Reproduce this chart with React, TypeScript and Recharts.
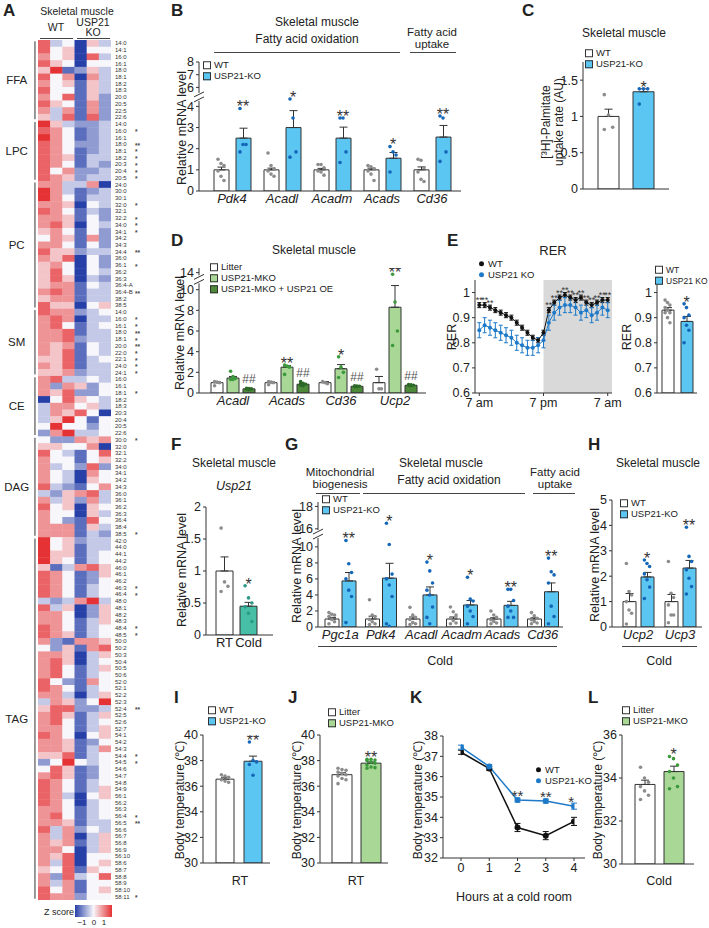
import React from 'react';
import {
  ComposedChart, ScatterChart, Bar, Line, Scatter, XAxis, YAxis, ErrorBar,
  ReferenceArea, ReferenceLine, ReferenceDot,
} from 'recharts';

const FONT = '"Liberation Sans", Arial, Helvetica, sans-serif';
const AX = '#333';
const TXT = '#222';
const WHITE = '#ffffff';
const BLUE = '#5CC6F2';
const BLUE_DOT = '#1466B8';
const GRAY_DOT = '#8c8c8c';
const LGREEN = '#A8D796';
const GREEN_DOT = '#3C9A3C';
const DGREEN = '#4C8A3A';
const DGREEN_DOT = '#2D6A28';
const TEAL = '#47BFA6';
const TEAL_DOT = '#2A9A86';
const LINE_BLUE = '#1E7AC8';

// ---------------- Heatmap data (A) ----------------
const ffaRows = ['14:0', '14:1', '16:0', '16:1', '18:0', '18:1', '18:2', '18:3', '20:0', '20:5', '22:5', '22:6'];
const ffaZ = ['734053', '745044', '645073', '754044', '581253', '746063', '645153', '744153', '647152', '754162', '636162', '537172'];
const ffaStars: Record<string, string> = {};
const lpcRows = ['14:0', '16:0', '16:1', '18:0', '18:1', '18:2', '20:3', '20:4', '20:5'];
const lpcZ = ['853223', '764123', '864123', '764223', '764123', '765133', '764132', '746223', '765233'];
const lpcStars: Record<string, string> = { '16:0': '*', '18:0': '**', '18:1': '*', '18:2': '*', '20:3': '*', '20:4': '*', '20:5': '*' };
const pcRows = ['24:0', '30:0', '30:1', '32:0', '32:1', '32:2', '34:0', '34:1', '34:2', '34:3', '34:4', '36:0', '36:1', '36:2', '36:3', '36:4-A', '36:4-B', '38:2', '38:5'];
const pcZ = ['663360', '863123', '864133', '665043', '764132', '665142', '675043', '564142', '465162', '664142', '755233', '657042', '564042', '574043', '575032', '566143', '676133', '566133', '755045'];
const pcStars: Record<string, string> = { '32:0': '*', '32:2': '*', '34:0': '*', '34:1': '*', '34:4': '**', '36:1': '*', '36:4-B': '**' };
const smRows = ['14:0', '16:0', '16:1', '18:0', '18:1', '20:0', '22:0', '22:1', '24:0', '24:1'];
const smZ = ['766234', '676033', '674134', '667133', '667233', '656143', '657143', '557134', '657133', '556233'];
const smStars: Record<string, string> = { '16:0': '*', '16:1': '*', '18:0': '**', '18:1': '*', '20:0': '**', '22:0': '*', '22:1': '*', '24:0': '*', '24:1': '*' };
const ceRows = ['16:0', '16:1', '18:1', '18:2', '18:3', '20:3', '20:4', '20:5', '22:6'];
const ceZ = ['673343', '626524', '657224', '047543', '366453', '365740', '358414', '484424', '268334'];
const ceStars: Record<string, string> = { '18:1': '*' };
const dagRows = ['30:0', '32:0', '32:1', '32:2', '34:0', '34:1', '34:2', '34:3', '36:0', '36:1', '36:2', '36:3', '36:4', '38:4', '38:5'];
const dagZ = ['422656', '554460', '743147', '644145', '634272', '643064', '643054', '732146', '325673', '635263', '745054', '644053', '642174', '666153', '666132'];
const dagStars: Record<string, string> = { '30:0': '*', '38:5': '*' };
const tagRows = ['42:0', '44:0', '44:1', '44:2', '46:0', '46:1', '46:2', '46:3', '46:4', '48:0', '48:1', '48:2', '48:3', '48:4', '48:5', '50:0', '50:2', '50:3', '50:4', '50:5', '50:6', '52:0', '52:1', '52:2', '52:3', '52:4', '52:5', '52:6', '52:7', '54:1', '54:2', '54:3', '54:4', '54:5', '54:6', '54:7', '54:8', '54:9', '56:1', '56:2', '56:3', '56:4', '56:5', '56:6', '56:7', '56:8', '56:9', '56:10', '58:6', '58:7', '58:8', '58:9', '58:10', '58:11'];
const tagZ = ['845233', '845133', '855134', '854134', '513675', '764125', '764124', '764134', '764134', '323683', '735025', '664025', '664135', '764134', '765134', '621665', '425167', '665035', '675034', '674135', '674134', '742164', '764134', '663035', '365248', '577223', '675135', '674134', '664135', '764045', '665124', '665136', '557134', '248434', '475124', '675124', '764134', '764135', '763045', '764034', '664134', '674134', '665133', '736243', '636035', '656135', '664035', '657044', '637045', '547154', '627347', '636144', '746145', '766244'];
const tagStars: Record<string, string> = { '46:3': '*', '46:4': '*', '48:4': '*', '48:5': '*', '52:4': '**', '54:4': '*', '54:5': '*', '56:4': '*', '56:5': '**', '58:11': '*' };
const hmGroups = [
  { name: 'FFA', rows: ffaRows, z: ffaZ, stars: ffaStars },
  { name: 'LPC', rows: lpcRows, z: lpcZ, stars: lpcStars },
  { name: 'PC', rows: pcRows, z: pcZ, stars: pcStars },
  { name: 'SM', rows: smRows, z: smZ, stars: smStars },
  { name: 'CE', rows: ceRows, z: ceZ, stars: ceStars },
  { name: 'DAG', rows: dagRows, z: dagZ, stars: dagStars },
  { name: 'TAG', rows: tagRows, z: tagZ, stars: tagStars },
];

// ---------------- B ----------------
const bGenes = ['Pdk4', 'Acadl', 'Acadm', 'Acads', 'Cd36'];
const bWT = [1, 1, 1, 1, 1];
const bWTerr = [0.13, 0.08, 0.07, 0.08, 0.14];
const bWTdots = [[1.5, 1.3, 1.2, 0.95, 0.7, 0.5], [1.8, 1.2, 1.05, 0.95, 0.8, 0.7], [1.25, 1.25, 1.1, 0.95, 0.9, 0.75], [1.2, 1.15, 1.05, 0.95, 0.8, 0.5], [1.5, 1.45, 1.1, 0.9, 0.55, 0.45]];
const bKO = [2.5, 3.0, 2.5, 1.55, 2.55];
const bKOerr = [0.47, 0.8, 0.52, 0.27, 0.55];
const bKOdots = [[3.9, 2.2, 2.2, 1.85], [4.35, 3.45, 1.85, 1.6], [3.45, 3.45, 1.85, 1.35], [2.1, 1.85, 1.7, 0.9], [3.55, 3.45, 1.85, 1.4]];
const bStars = ['**', '*', '**', '*', '**'];
const bTicks = [0, 1, 2, 3, 4, 6, 7, 8];

// ---------------- C ----------------
const cWT = [1.0]; const cWTerr = [0.1]; const cWTdots = [[1.3, 1.02, 0.85, 0.82]];
const cKO = [1.34]; const cKOerr = [0.04]; const cKOdots = [[1.38, 1.38, 1.38, 1.17]];
const cTicks = [0, 0.5, 1, 1.5];

// ---------------- D ----------------
const dGenes = ['Acadl', 'Acads', 'Cd36', 'Ucp2'];
const dLitter = [1.0, 1.0, 1.0, 1.0];
const dLitterErr = [0.08, 0.07, 0.1, 0.6];
const dLitterDots = [[1.1, 1.05, 1.0, 0.7], [1.1, 1.05, 1.0, 0.8], [1.1, 1.0, 0.9], [2.3, 0.4, 0.4]];
const dMKO = [1.45, 2.5, 2.35, 8.3];
const dMKOErr = [0.15, 0.15, 0.4, 2.1];
const dMKODots = [[2.1, 1.6, 1.4, 1.3, 1.3], [2.7, 2.6, 2.5, 1.8], [3.5, 2.5, 2.0, 1.5], [13.6, 8.8, 6.0, 4.6]];
const dMKOStars = ['', '**', '*', '**'];
const dOE = [0.4, 0.85, 0.65, 0.75];
const dOEErr = [0.04, 0.08, 0.04, 0.05];
const dOEDots = [[0.45, 0.42, 0.4, 0.38, 0.35], [1.1, 0.95, 0.85, 0.75, 0.7], [0.7, 0.68, 0.65, 0.62, 0.6], [0.82, 0.8, 0.75, 0.72, 0.7]];
const dOEStars = ['##', '##', '##', '##'];
const dTicks = [0, 2, 4, 6, 8, 10, 14];

// ---------------- E ----------------
const rerHours = [0, 1, 2, 3, 4, 5, 6, 7, 8, 9, 10, 11, 12, 13, 14, 15, 16, 17, 18, 19, 20, 21, 22, 23, 24];
const rerWT = [0.95, 0.95, 0.94, 0.93, 0.92, 0.91, 0.9, 0.88, 0.86, 0.84, 0.82, 0.81, 0.84, 0.93, 0.96, 0.98, 0.99, 0.98, 0.97, 0.98, 0.96, 0.95, 0.96, 0.97, 0.97];
const rerWTerr = [0.01, 0.01, 0.01, 0.01, 0.01, 0.01, 0.01, 0.01, 0.01, 0.01, 0.01, 0.01, 0.01, 0.01, 0.01, 0.01, 0.01, 0.01, 0.01, 0.01, 0.01, 0.01, 0.01, 0.01, 0.01];
const rerKO = [0.85, 0.87, 0.86, 0.85, 0.84, 0.83, 0.82, 0.8, 0.79, 0.78, 0.78, 0.79, 0.81, 0.88, 0.92, 0.94, 0.95, 0.95, 0.94, 0.92, 0.93, 0.91, 0.92, 0.94, 0.93];
const rerKOerr = [0.03, 0.03, 0.03, 0.03, 0.03, 0.03, 0.03, 0.03, 0.03, 0.03, 0.03, 0.03, 0.03, 0.03, 0.03, 0.03, 0.03, 0.03, 0.03, 0.03, 0.03, 0.03, 0.03, 0.03, 0.03];
const rerStarIdx = [0, 1, 2, 13, 14, 15, 16, 17, 18, 19, 20, 21, 22, 23, 24];
const rerTicks = [0.6, 0.7, 0.8, 0.9, 1];
const rerXTicks = [0, 12, 24];
const rerXLabels = ['7 am', '7 pm', '7 am'];
const eWT = [0.93]; const eWTerr = [0.01]; const eWTdots = [[0.97, 0.96, 0.95, 0.94, 0.93, 0.92, 0.92, 0.9, 0.88]];
const eKO = [0.885]; const eKOerr = [0.02]; const eKOdots = [[0.955, 0.94, 0.91, 0.9, 0.87, 0.85, 0.8]];

// ---------------- F ----------------
const fRT = [1.0]; const fRTerr = [0.22]; const fRTdots = [[1.67, 0.83, 0.76, 0.68]];
const fCold = [0.45]; const fColdErr = [0.06]; const fColdDots = [[0.77, 0.58, 0.5, 0.44, 0.34, 0.21]];
const fTicks = [0, 0.5, 1, 1.5, 2];

// ---------------- G ----------------
const gGenes = ['Pgc1a', 'Pdk4', 'Acadl', 'Acadm', 'Acads', 'Cd36'];
const gWT = [1, 1, 1, 1, 1, 1];
const gWTerr = [0.2, 0.35, 0.25, 0.25, 0.15, 0.15];
const gWTdots = [[1.8, 1.6, 1.5, 1.3, 0.95, 0.65, 0.4], [3.4, 1.5, 1.3, 0.95, 0.65, 0.4, 0.3], [2.45, 1.5, 1.2, 0.95, 0.55, 0.4, 0.3], [2.5, 1.9, 1.5, 1.1, 0.8, 0.5, 0.4], [2.0, 1.5, 1.2, 0.9, 0.7, 0.5, 0.4], [1.8, 1.4, 1.1, 0.9, 0.7, 0.5, 0.4]];
const gKO = [5.75, 6.1, 4.0, 2.75, 2.7, 4.4];
const gKOerr = [1.05, 1.85, 1.0, 0.55, 0.5, 1.1];
const gKOdots = [[10.8, 7.9, 6.8, 6.0, 4.6, 3.8, 0.55], [16.5, 10.3, 6.6, 6.0, 5.25, 3.8, 0.4, 0.1], [8.1, 7.0, 5.5, 4.6, 4.0, 2.5, 1.2, 0.4], [6.2, 3.5, 3.25, 2.6, 2.0, 1.3, 0.4], [4.7, 4.7, 3.3, 2.6, 2.0, 1.2, 1.2], [8.6, 6.9, 6.5, 5.5, 2.6, 1.3, 0.4]];
const gStars = ['**', '*', '*', '*', '**', '**'];
const gTicks = [0, 2, 4, 6, 8, 10, 16, 18];

// ---------------- H ----------------
const hGenes = ['Ucp2', 'Ucp3'];
const hWT = [1.0, 1.0]; const hWTerr = [0.32, 0.28];
const hWTdots = [[2.5, 1.4, 1.26, 1.0, 0.67, 0.54, 0.12], [2.58, 1.33, 1.16, 0.87, 0.47, 0.47, 0.17]];
const hKO = [1.97, 2.32]; const hKOerr = [0.18, 0.3];
const hKOdots = [[2.64, 2.5, 2.38, 2.09, 1.86, 1.57, 1.12], [3.93, 2.78, 2.58, 2.25, 1.92, 1.59, 1.3]];
const hStars = ['*', '**'];
const hTicks = [0, 1, 2, 3, 4, 5];

// ---------------- I, J, L ----------------
const iWT = [36.55]; const iWTerr = [0.15]; const iWTdots = [[36.9, 36.8, 36.7, 36.5, 36.4, 36.3]];
const iKO = [37.95]; const iKOerr = [0.4]; const iKOdots = [[39.45, 38.0, 37.9, 37.7, 36.85]];
const jLit = [36.9]; const jLitErr = [0.15]; const jLitDots = [[37.4, 37.3, 37.25, 37.1, 37.0, 36.9, 36.8, 36.6, 36.5, 36.2]];
const jMKO = [37.8]; const jMKOErr = [0.1]; const jMKODots = [[38.1, 38.1, 38.05, 38.0, 37.9, 37.8, 37.65, 37.5, 37.45, 37.4]];
const tempTicks = [30, 32, 34, 36, 38, 40];
const lLit = [33.7]; const lLitErr = [0.2]; const lLitDots = [[34.5, 34.0, 33.8, 33.6, 33.4, 33.2, 33.0]];
const lMKO = [34.3]; const lMKOErr = [0.25]; const lMKODots = [[35.0, 34.9, 34.6, 34.3, 34.0, 33.6, 33.5]];
const lTicks = [30, 32, 34, 36];

// ---------------- K ----------------
const kHours = [0, 1, 2, 3, 4];
const kWT = [37.2, 36.4, 33.5, 33.1, 33.8];
const kWTerr = [0.1, 0.1, 0.2, 0.2, 0.2];
const kKO = [37.45, 36.5, 34.85, 34.8, 34.55];
const kKOerr = [0.1, 0.1, 0.1, 0.1, 0.15];
const kStarIdx = [2, 3, 4];
const kTicks = [32, 33, 34, 35, 36, 37, 38];

// ---------------- helpers ----------------
function Txt({ x, y, s = 12, c = TXT, b = false, i = false, a = 'middle', children }: any) {
  const tx = a === 'middle' ? '-50%' : a === 'end' ? '-100%' : '0';
  return (
    <div style={{ position: 'absolute', left: x, top: y, transform: `translate(${tx},-50%)`, fontSize: s, color: c, fontWeight: b ? 'bold' : 'normal', fontStyle: i ? 'italic' : 'normal', fontFamily: FONT, whiteSpace: 'nowrap', lineHeight: 1 }}>{children}</div>
  );
}
function VTxt({ x, y, s = 12, children }: any) {
  return (
    <div style={{ position: 'absolute', left: x, top: y, transform: 'translate(-50%,-50%) rotate(-90deg)', fontSize: s, color: TXT, fontFamily: FONT, whiteSpace: 'nowrap', lineHeight: 1 }}>{children}</div>
  );
}
function HLine({ x1, x2, y }: any) {
  return <div style={{ position: 'absolute', left: x1, top: y, width: x2 - x1, height: 0, borderTop: '1px solid #444' }} />;
}
function Legend({ x, y, items, dy = 11, s = 9.5, round = false }: any) {
  return (
    <>
      {items.map((it: any, k: number) => (
        <div key={k} style={{ position: 'absolute', left: x, top: y + k * dy, transform: 'translateY(-50%)', display: 'flex', alignItems: 'center', fontSize: s, fontFamily: FONT, color: TXT, whiteSpace: 'nowrap', lineHeight: 1 }}>
          {round ? (
            <span style={{ width: 5, height: 5, borderRadius: '50%', background: it.fill, marginRight: 4, display: 'inline-block' }} />
          ) : (
            <span style={{ width: 8, height: 8, border: '1px solid #333', background: it.fill, marginRight: 3, display: 'inline-block', boxSizing: 'border-box' }} />
          )}
          {it.label}
        </div>
      ))}
    </>
  );
}
const BreakMark = ({ cx, cy }: any) => (
  <g>
    <rect x={cx - 5} y={cy - 4} width={10} height={8} fill="#fff" />
    <line x1={cx - 5} y1={cy + 0} x2={cx + 5} y2={cy - 5} stroke={AX} strokeWidth={1} />
    <line x1={cx - 5} y1={cy + 5} x2={cx + 5} y2={cy} stroke={AX} strokeWidth={1} />
  </g>
);
const starShape = (size: number) => (q: any) => {
  const t: string = q.payload.t;
  const isHash = t.indexOf('#') >= 0;
  const y = isHash ? q.cy - 5 : q.cy - 3 + 0.43 * size;
  return (
    <text x={q.cx} y={y} textAnchor="middle" fontSize={isHash ? 12 : size} fontFamily={FONT} fill={q.payload.c || '#333'}>{t}</text>
  );
};

// ---------------- generic bar panel ----------------
function BarPanel(p: any) {
  const {
    x0, y0, w, h, ml = 32, mr = 4, mt = 10, mb = 22, cats, series, domain, ticks, tickLabels,
    padL = 0, padR = 0, barSize, barGap, italic = true, hideX = false, tf = (v: number) => v, brk,
    starSize = 16, catFont = 13, barLabels, tickFont = 12.5, dotR = 1.8,
  } = p;
  const n = cats.length;
  const k = series.length;
  const band = (w - padL - padR) / n;
  const off = (j: number) => (j - (k - 1) / 2) * (barSize + barGap);
  const data = cats.map((c: string, i: number) => {
    const o: any = { cat: c };
    series.forEach((s: any, j: number) => {
      const v = tf(s.values[i]);
      o['v' + j] = v;
      o['e' + j] = [0, tf(s.values[i] + s.errs[i]) - v];
    });
    return o;
  });
  const dots: any[] = [];
  const stars: any[] = [];
  series.forEach((s: any, j: number) => {
    s.dots.forEach((arr: number[], i: number) => {
      arr.forEach((d: number, m: number) => dots.push({ x: i + 0.5 + (off(j) + ((m % 3) - 1) * barSize * 0.2) / band, y: tf(d), c: s.dot }));
      if (s.stars && s.stars[i]) {
        stars.push({ x: i + 0.5 + off(j) / band, y: tf(Math.max(...arr, s.values[i] + s.errs[i])), t: s.stars[i], c: s.starColor || '#333' });
      }
    });
  });
  const disp = ticks.map(tf);
  const fmt = (v: number) => {
    const idx = disp.findIndex((t: number) => Math.abs(t - v) < 1e-6);
    return idx >= 0 ? (tickLabels ? tickLabels[idx] : String(ticks[idx])) : '';
  };
  const xTick = (q: any) => {
    if (hideX) return <g />;
    if (barLabels) {
      return (
        <g>
          {barLabels.map((l: string, j: number) => (
            <text key={j} x={q.x + off(j)} y={q.y} dy="0.75em" textAnchor="middle" fontSize={catFont} fontFamily={FONT} fill={TXT}>{l}</text>
          ))}
        </g>
      );
    }
    return (
      <text x={q.x} y={q.y} dy="0.75em" textAnchor="middle" fontSize={catFont} fontStyle={italic ? 'italic' : 'normal'} fontFamily={FONT} fill={TXT}>{q.payload.value}</text>
    );
  };
  return (
    <div style={{ position: 'absolute', left: x0 - ml, top: y0 - mt }}>
      <ComposedChart width={ml + w + mr} height={mt + h + mb} data={data} margin={{ top: mt, right: mr, left: 0, bottom: 0 }} barGap={barGap}>
        <XAxis xAxisId="c" dataKey="cat" type="category" padding={{ left: padL, right: padR }} height={mb} tickLine={false} tickSize={0} tickMargin={2} axisLine={{ stroke: AX }} tick={xTick} interval={0} />
        <XAxis xAxisId="n" dataKey="x" type="number" domain={[0, n]} padding={{ left: padL, right: padR }} hide allowDataOverflow />
        <YAxis yAxisId="y" type="number" domain={domain} ticks={disp} tickFormatter={fmt} width={ml} allowDataOverflow interval={0} tick={{ fontSize: tickFont, fill: TXT, fontFamily: FONT }} tickSize={3} tickMargin={2} axisLine={{ stroke: AX }} tickLine={{ stroke: AX }} />
        {series.map((s: any, j: number) => (
          <Bar key={j} xAxisId="c" yAxisId="y" dataKey={'v' + j} barSize={barSize} fill={s.fill} stroke={AX} strokeWidth={1} isAnimationActive={false}>
            <ErrorBar dataKey={'e' + j} width={4} stroke={AX} strokeWidth={1} direction="y" />
          </Bar>
        ))}
        <Scatter xAxisId="n" yAxisId="y" data={dots} dataKey="y" isAnimationActive={false} shape={(q: any) => <circle cx={q.cx} cy={q.cy} r={dotR} fill={q.payload.c} />} />
        <Scatter xAxisId="n" yAxisId="y" data={stars} dataKey="y" isAnimationActive={false} shape={starShape(starSize)} />
        {brk !== undefined && (
          <ReferenceDot xAxisId="n" yAxisId="y" x={-padL / band} y={brk} ifOverflow="visible" shape={(q: any) => <BreakMark cx={q.cx} cy={q.cy} />} />
        )}
      </ComposedChart>
    </div>
  );
}

// ---------------- line panel ----------------
function LinePanel(p: any) {
  const {
    x0, y0, w, h, ml = 30, mr = 4, mt = 10, mb = 20, xs, a, ae, b, be, aColor, bColor,
    xDomain, xTicks, xFmt, yDomain, yTicks, yFmt, padL = 0, padR = 0, starOn, starIdx, starText,
    starSize = 14, shade, r = 2.2, sw = 1.2, tickFont = 12.5, ebW = 3,
  } = p;
  const data = xs.map((x: number, i: number) => ({ x, a: a[i], ae: [ae[i], ae[i]], b: b[i], be: [be[i], be[i]] }));
  const stars = starIdx.map((i: number) => ({ x: xs[i], y: starOn === 'a' ? a[i] + ae[i] : b[i] + be[i], t: starText }));
  return (
    <div style={{ position: 'absolute', left: x0 - ml, top: y0 - mt }}>
      <ComposedChart width={ml + w + mr} height={mt + h + mb} data={data} margin={{ top: mt, right: mr, left: 0, bottom: 0 }}>
        <XAxis dataKey="x" type="number" domain={xDomain} ticks={xTicks} tickFormatter={xFmt} padding={{ left: padL, right: padR }} allowDataOverflow height={mb} interval={0} tickSize={3} tickMargin={2} axisLine={{ stroke: AX }} tickLine={{ stroke: AX }} tick={{ fontSize: tickFont, fill: TXT, fontFamily: FONT }} />
        <YAxis type="number" domain={yDomain} ticks={yTicks} tickFormatter={yFmt} width={ml} allowDataOverflow interval={0} tickSize={3} tickMargin={2} axisLine={{ stroke: AX }} tickLine={{ stroke: AX }} tick={{ fontSize: tickFont, fill: TXT, fontFamily: FONT }} />
        {shade && <ReferenceArea x1={shade[0]} x2={shade[1]} y1={yDomain[0]} y2={yDomain[1]} fill="#d9d9d9" fillOpacity={1} stroke="none" ifOverflow="visible" />}
        <Line dataKey="a" stroke={aColor} strokeWidth={sw} dot={{ r, fill: aColor, stroke: aColor, strokeWidth: 0 }} isAnimationActive={false}>
          <ErrorBar dataKey="ae" width={ebW} stroke={aColor} strokeWidth={1} direction="y" />
        </Line>
        <Line dataKey="b" stroke={bColor} strokeWidth={sw} dot={{ r, fill: bColor, stroke: bColor, strokeWidth: 0 }} isAnimationActive={false}>
          <ErrorBar dataKey="be" width={ebW} stroke={bColor} strokeWidth={1} direction="y" />
        </Line>
        <Scatter data={stars} dataKey="y" isAnimationActive={false} shape={starShape(starSize)} />
      </ComposedChart>
    </div>
  );
}

// ---------------- heatmap ----------------
const lerp = (u: number, v: number, t: number) => Math.round(u + (v - u) * t);
function zColor(d: number) {
  const t = (d - 4) / 4;
  const W = [247, 246, 250];
  const E = t >= 0 ? [229, 50, 52] : [38, 64, 168];
  const u = Math.min(1, Math.abs(t));
  return `rgb(${lerp(W[0], E[0], u)},${lerp(W[1], E[1], u)},${lerp(W[2], E[2], u)})`;
}
function Heatmap() {
  const rows: any[] = [];
  hmGroups.forEach((g) => g.rows.forEach((r, ri) => rows.push({ label: r, z: g.z[ri], star: g.stars[r] || '' })));
  const N = rows.length;
  const cells: any[] = [];
  rows.forEach((r, i) => r.z.split('').forEach((d: string, c: number) => cells.push({ x: c, y: i, z: Number(d) })));
  const W = 73;
  const H = 860;
  const cw = W / 6;
  const ch = H / N;
  const bounds: any[] = [];
  let s = 0;
  hmGroups.forEach((g) => { bounds.push({ name: g.name, a: s, b: s + g.rows.length - 1 }); s += g.rows.length; });
  const idx = rows.map((_, i) => i);
  const rowTick = (q: any) => {
    const r = rows[q.payload.value];
    if (!r) return <g />;
    return (
      <g>
        <text x={q.x} y={q.y} dy={2.1} fontSize={6} fontFamily={FONT} fill="#333" textAnchor="start">{r.label}</text>
        {r.star && <text x={q.x + 20} y={q.y} dy={3.6} fontSize={6.5} fontWeight="bold" fontFamily={FONT} fill="#444" textAnchor="start">{r.star}</text>}
      </g>
    );
  };
  return (
    <div style={{ position: 'absolute', left: 0, top: 40 }}>
      <ScatterChart width={38 + W + 38} height={H + 6} margin={{ top: 0, right: 0, left: 38, bottom: 6 }}>
        <XAxis dataKey="x" type="number" domain={[-0.5, 5.5]} hide allowDataOverflow />
        <YAxis yAxisId="r" dataKey="y" type="number" domain={[-0.5, N - 0.5]} reversed orientation="right" ticks={idx} interval={0} width={38} tick={rowTick} tickLine={false} axisLine={false} tickSize={0} tickMargin={4} allowDataOverflow />
        <Scatter yAxisId="r" data={cells} isAnimationActive={false} shape={(q: any) => <rect x={q.cx - cw / 2} y={q.cy - ch / 2} width={cw + 0.4} height={ch + 0.4} fill={zColor(q.payload.z)} />} />
        {bounds.map((g) => (
          <ReferenceLine key={'l' + g.name} yAxisId="r" segment={[{ x: -0.75, y: g.a - 0.3 }, { x: -0.75, y: g.b + 0.3 }]} stroke="#555" strokeWidth={1.2} ifOverflow="visible" />
        ))}
        {bounds.map((g) => (
          <ReferenceDot key={'t' + g.name} yAxisId="r" x={-2.25} y={(g.a + g.b) / 2} ifOverflow="visible" shape={(q: any) => <text x={q.cx} y={q.cy + 4} textAnchor="middle" fontSize={11.5} fontFamily={FONT} fill={TXT}>{g.name}</text>} />
        ))}
      </ScatterChart>
    </div>
  );
}

// ---------------- transforms for broken axes ----------------
const tfB = (v: number) => (v <= 4.6 ? v : 4.9 + (v - 6) * 0.6);
const tfD = (v: number) => (v <= 10.6 ? v : 11.65 + (v - 14) * 0.4);
const tfG = (v: number) => (v <= 11 ? v : 12.25 + (v - 16) * 1.4);

export default function App() {
  return (
    <div style={{ position: 'absolute', left: 0, top: 0, width: 709, height: 928, background: '#fff', overflow: 'hidden', fontFamily: FONT, color: TXT }}>
      {/* ---------- A ---------- */}
      <Txt x={3} y={10} s={17} b a="start">A</Txt>
      <Txt x={77} y={10.5} s={10.5}>Skeletal muscle</Txt>
      <Txt x={56} y={27} s={10.5}>WT</Txt>
      <Txt x={93} y={21.5} s={10.5}>USP21</Txt>
      <Txt x={93} y={32} s={10.5}>KO</Txt>
      <HLine x1={40} x2={73} y={38} />
      <HLine x1={77} x2={110} y={38} />
      <Heatmap />
      <Txt x={44} y={912} s={9} a="start">Z score</Txt>
      <div style={{ position: 'absolute', left: 75, top: 905, width: 37, height: 12, background: 'linear-gradient(to right, rgb(38,64,168), rgb(247,246,250), rgb(229,50,52))' }} />
      <Txt x={82} y={923} s={8}>−1</Txt>
      <Txt x={94} y={923} s={8}>0</Txt>
      <Txt x={104} y={923} s={8}>1</Txt>

      {/* ---------- B ---------- */}
      <Txt x={171} y={10} s={17} b a="start">B</Txt>
      <Txt x={317} y={22} s={12}>Skeletal muscle</Txt>
      <Txt x={307} y={39} s={12}>Fatty acid oxidation</Txt>
      <HLine x1={214} x2={400} y={52} />
      <Txt x={432} y={33} s={11.5}>Fatty acid</Txt>
      <Txt x={432} y={45} s={11.5}>uptake</Txt>
      <HLine x1={410} x2={456} y={52} />
      <VTxt x={182} y={128} s={12.5}>Relative mRNA level</VTxt>
      <BarPanel x0={199} y0={62} w={262} h={129} ml={22} cats={bGenes} domain={[0, tfB(8)]} ticks={bTicks} tf={tfB} brk={4.45}
        padL={8} padR={4} barSize={15} barGap={7} tickFont={12.5}
        series={[
          { values: bWT, errs: bWTerr, dots: bWTdots, fill: WHITE, dot: GRAY_DOT },
          { values: bKO, errs: bKOerr, dots: bKOdots, fill: BLUE, dot: BLUE_DOT, stars: bStars },
        ]} />
      <Legend x={203} y={65} items={[{ label: 'WT', fill: WHITE }, { label: 'USP21-KO', fill: BLUE }]} />

      {/* ---------- C ---------- */}
      <Txt x={522} y={10} s={17} b a="start">C</Txt>
      <Txt x={624} y={33} s={12}>Skeletal muscle</Txt>
      <VTxt x={546} y={122} s={12}>[³H]-Palmitate</VTxt>
      <VTxt x={559} y={122} s={12}>uptake rate (AU)</VTxt>
      <BarPanel x0={583} y0={62} w={86} h={127} ml={26} cats={['']} domain={[0, 1.75]} ticks={cTicks} tickLabels={['0', '0.5', '1', '1.5']}
        barSize={21} barGap={14} hideX
        series={[
          { values: cWT, errs: cWTerr, dots: cWTdots, fill: WHITE, dot: GRAY_DOT },
          { values: cKO, errs: cKOerr, dots: cKOdots, fill: BLUE, dot: BLUE_DOT, stars: ['*'] },
        ]} />
      <Legend x={585} y={53} items={[{ label: 'WT', fill: WHITE }, { label: 'USP21-KO', fill: BLUE }]} />

      {/* ---------- D ---------- */}
      <Txt x={171} y={240} s={17} b a="start">D</Txt>
      <Txt x={314} y={250} s={12}>Skeletal muscle</Txt>
      <VTxt x={180} y={333} s={12.5}>Relative mRNA level</VTxt>
      <BarPanel x0={199} y0={268} w={227} h={125} ml={24} cats={dGenes} domain={[0, 12.1]} ticks={dTicks} tf={tfD} brk={11.0}
        padL={7} padR={4} barSize={12} barGap={4}
        series={[
          { values: dLitter, errs: dLitterErr, dots: dLitterDots, fill: WHITE, dot: GRAY_DOT },
          { values: dMKO, errs: dMKOErr, dots: dMKODots, fill: LGREEN, dot: GREEN_DOT, stars: dMKOStars },
          { values: dOE, errs: dOEErr, dots: dOEDots, fill: DGREEN, dot: DGREEN_DOT, stars: dOEStars, starColor: '#555' },
        ]} />
      <Legend x={210} y={267} items={[{ label: 'Litter', fill: WHITE }, { label: 'USP21-MKO', fill: LGREEN }, { label: 'USP21-MKO + USP21 OE', fill: DGREEN }]} />

      {/* ---------- E ---------- */}
      <Txt x={447} y={240} s={17} b a="start">E</Txt>
      <Txt x={553} y={250} s={13}>RER</Txt>
      <VTxt x={452} y={337} s={12.5}>RER</VTxt>
      <LinePanel x0={475} y0={280} w={137} h={113} ml={30} mr={16} xs={rerHours} a={rerWT} ae={rerWTerr} b={rerKO} be={rerKOerr}
        aColor="#111" bColor={LINE_BLUE} xDomain={[-0.8, 24.8]} xTicks={rerXTicks} xFmt={(v: number) => rerXLabels[rerXTicks.indexOf(v)] || ''}
        yDomain={[0.6, 1.05]} yTicks={rerTicks} yFmt={(v: number) => (v === 1 ? '1' : v.toFixed(1))}
        starOn="a" starIdx={rerStarIdx} starText="**" starSize={9} shade={[12, 24.8]} r={2} sw={1} ebW={2} />
      <Legend x={479} y={264} round items={[{ label: 'WT', fill: '#111' }, { label: 'USP21 KO', fill: LINE_BLUE }]} />
      <VTxt x={627} y={337} s={12.5}>RER</VTxt>
      <BarPanel x0={657} y0={280} w={40} h={113} ml={26} cats={['']} domain={[0.6, 1.05]} ticks={rerTicks} tickLabels={['0.6', '0.7', '0.8', '0.9', '1']}
        barSize={12} barGap={7} hideX
        series={[
          { values: eWT, errs: eWTerr, dots: eWTdots, fill: WHITE, dot: GRAY_DOT },
          { values: eKO, errs: eKOerr, dots: eKOdots, fill: BLUE, dot: BLUE_DOT, stars: ['*'] },
        ]} />
      <Legend x={655} y={270} s={8.5} items={[{ label: 'WT', fill: WHITE }, { label: 'USP21 KO', fill: BLUE }]} />

      {/* ---------- F ---------- */}
      <Txt x={171} y={444} s={17} b a="start">F</Txt>
      <Txt x={234} y={463} s={12}>Skeletal muscle</Txt>
      <Txt x={234} y={486} s={12.5} i>Usp21</Txt>
      <VTxt x={182} y={570} s={12.5}>Relative mRNA level</VTxt>
      <BarPanel x0={206} y0={507} w={67} h={128} ml={28} cats={['']} domain={[0, 2]} ticks={fTicks} tickLabels={['0', '0.5', '1', '1.5', '2']}
        padR={6} barSize={17} barGap={7} barLabels={['RT', 'Cold']}
        series={[
          { values: fRT, errs: fRTerr, dots: fRTdots, fill: WHITE, dot: GRAY_DOT },
          { values: fCold, errs: fColdErr, dots: fColdDots, fill: TEAL, dot: TEAL_DOT, stars: ['*'] },
        ]} />

      {/* ---------- G ---------- */}
      <Txt x={285} y={444} s={17} b a="start">G</Txt>
      <Txt x={441} y={463} s={12}>Skeletal muscle</Txt>
      <Txt x={340} y={473} s={11.5}>Mitochondrial</Txt>
      <Txt x={340} y={485} s={11.5}>biogenesis</Txt>
      <HLine x1={316} x2={360} y={493} />
      <Txt x={449} y={480} s={12}>Fatty acid oxidation</Txt>
      <HLine x1={363} x2={525} y={493} />
      <Txt x={555} y={473} s={11.5}>Fatty acid</Txt>
      <Txt x={555} y={485} s={11.5}>uptake</Txt>
      <HLine x1={533} x2={575} y={493} />
      <VTxt x={297} y={566} s={12.5}>Relative mRNA level</VTxt>
      <BarPanel x0={318} y0={502} w={245} h={125} ml={24} cats={gGenes} domain={[0, 15.6]} ticks={gTicks} tf={tfG} brk={11.6}
        padL={2} padR={0} barSize={14} barGap={3}
        series={[
          { values: gWT, errs: gWTerr, dots: gWTdots, fill: WHITE, dot: GRAY_DOT },
          { values: gKO, errs: gKOerr, dots: gKOdots, fill: BLUE, dot: BLUE_DOT, stars: gStars },
        ]} />
      <Legend x={322} y={499} items={[{ label: 'WT', fill: WHITE }, { label: 'USP21-KO', fill: BLUE }]} />
      <HLine x1={318} x2={557} y={646} />
      <Txt x={440} y={661} s={12.5}>Cold</Txt>

      {/* ---------- H ---------- */}
      <Txt x={588} y={444} s={17} b a="start">H</Txt>
      <Txt x={658} y={463} s={12}>Skeletal muscle</Txt>
      <VTxt x={595} y={565} s={12.5}>Relative mRNA level</VTxt>
      <BarPanel x0={612} y0={500} w={90} h={127} ml={20} cats={hGenes} domain={[0, 5]} ticks={hTicks}
        padL={5} padR={1} barSize={13} barGap={5}
        series={[
          { values: hWT, errs: hWTerr, dots: hWTdots, fill: WHITE, dot: GRAY_DOT },
          { values: hKO, errs: hKOerr, dots: hKOdots, fill: BLUE, dot: BLUE_DOT, stars: hStars },
        ]} />
      <Legend x={620} y={503} items={[{ label: 'WT', fill: WHITE }, { label: 'USP21-KO', fill: BLUE }]} />
      <HLine x1={622} x2={697} y={646} />
      <Txt x={659} y={661} s={12.5}>Cold</Txt>

      {/* ---------- I ---------- */}
      <Txt x={174} y={697} s={17} b a="start">I</Txt>
      <VTxt x={180} y={800} s={12}>Body temperature (℃)</VTxt>
      <BarPanel x0={203} y0={735} w={67} h={128} ml={22} cats={['']} domain={[30, 40]} ticks={tempTicks}
        padL={8} padR={3} barSize={18} barGap={10} hideX
        series={[
          { values: iWT, errs: iWTerr, dots: iWTdots, fill: WHITE, dot: GRAY_DOT },
          { values: iKO, errs: iKOerr, dots: iKOdots, fill: BLUE, dot: BLUE_DOT, stars: ['**'] },
        ]} />
      <Legend x={208} y={710} items={[{ label: 'WT', fill: WHITE }, { label: 'USP21-KO', fill: BLUE }]} />
      <Txt x={240} y={881} s={12.5}>RT</Txt>

      {/* ---------- J ---------- */}
      <Txt x={288} y={697} s={17} b a="start">J</Txt>
      <VTxt x={297} y={800} s={12}>Body temperature (℃)</VTxt>
      <BarPanel x0={320} y0={735} w={68} h={128} ml={22} cats={['']} domain={[30, 40]} ticks={tempTicks}
        padL={7} padR={2} barSize={20} barGap={9} hideX
        series={[
          { values: jLit, errs: jLitErr, dots: jLitDots, fill: WHITE, dot: GRAY_DOT },
          { values: jMKO, errs: jMKOErr, dots: jMKODots, fill: LGREEN, dot: GREEN_DOT, stars: ['**'] },
        ]} />
      <Legend x={328} y={712} items={[{ label: 'Litter', fill: WHITE }, { label: 'USP21-MKO', fill: LGREEN }]} />
      <Txt x={356} y={881} s={12.5}>RT</Txt>

      {/* ---------- K ---------- */}
      <Txt x={410} y={697} s={17} b a="start">K</Txt>
      <VTxt x={418} y={800} s={12}>Body temperature (℃)</VTxt>
      <LinePanel x0={443} y0={736} w={142} h={122} ml={22} xs={kHours} a={kWT} ae={kWTerr} b={kKO} be={kKOerr}
        aColor="#111" bColor={LINE_BLUE} xDomain={[0, 4]} xTicks={kHours} xFmt={(v: number) => String(v)} padL={18} padR={11}
        yDomain={[32, 38]} yTicks={kTicks} yFmt={(v: number) => String(v)}
        starOn="b" starIdx={kStarIdx} starText="**" starSize={15} r={3} sw={1.5} ebW={3} />
      <Legend x={536} y={770} round items={[{ label: 'WT', fill: '#111' }, { label: 'USP21-KO', fill: LINE_BLUE }]} />
      <Txt x={514} y={897} s={12.5}>Hours at a cold room</Txt>

      {/* ---------- L ---------- */}
      <Txt x={588} y={697} s={17} b a="start">L</Txt>
      <VTxt x={598} y={800} s={12}>Body temperature (℃)</VTxt>
      <BarPanel x0={622} y0={735} w={72} h={129} ml={22} cats={['']} domain={[30, 36]} ticks={lTicks}
        padL={8} padR={6} barSize={20} barGap={9} hideX
        series={[
          { values: lLit, errs: lLitErr, dots: lLitDots, fill: WHITE, dot: GRAY_DOT },
          { values: lMKO, errs: lMKOErr, dots: lMKODots, fill: LGREEN, dot: GREEN_DOT, stars: ['*'] },
        ]} />
      <Legend x={622} y={710} items={[{ label: 'Litter', fill: WHITE }, { label: 'USP21-MKO', fill: LGREEN }]} />
      <Txt x={659} y={881} s={12.5}>Cold</Txt>
    </div>
  );
}
